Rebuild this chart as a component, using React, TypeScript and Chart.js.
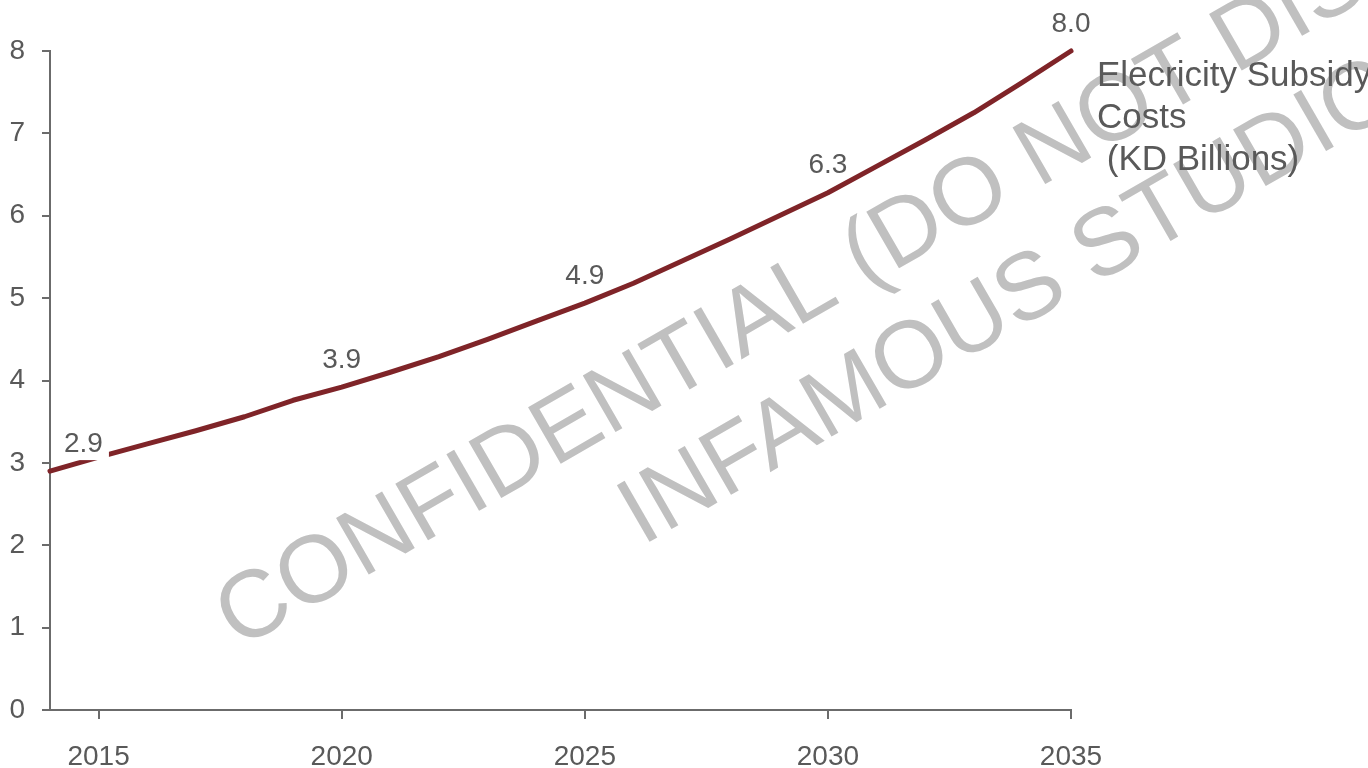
import React, { useEffect, useRef } from 'react';
import { Chart, registerables } from 'chart.js';

Chart.register(...registerables);

// ---- Data ----
const years = [2014, 2015, 2016, 2017, 2018, 2019, 2020, 2021, 2022, 2023, 2024, 2025, 2026, 2027, 2028, 2029, 2030, 2031, 2032, 2033, 2034, 2035];
const subsidyCost = [2.9, 3.07, 3.23, 3.39, 3.56, 3.76, 3.92, 4.1, 4.29, 4.5, 4.72, 4.94, 5.18, 5.45, 5.72, 6.0, 6.28, 6.6, 6.92, 7.25, 7.62, 8.0];
const labeledYears = [2014, 2020, 2025, 2030, 2035];
const labeledTexts = ['2.9', '3.9', '4.9', '6.3', '8.0'];
const xTickValues = [2015, 2020, 2025, 2030, 2035];
const xTickLabels = ['2015', '2020', '2025', '2030', '2035'];
const yTickValues = [0, 1, 2, 3, 4, 5, 6, 7, 8];
const seriesLabelLines = ['Elecricity Subsidy', 'Costs', ' (KD Billions)'];
const watermarkLines = ['CONFIDENTIAL (DO NOT DISTRIBUTE)', 'INFAMOUS STUDIOS'];

const FONT = "'Liberation Sans', Arial, Helvetica, sans-serif";
const TEXT_COLOR = '#595959';
const AXIS_COLOR = '#6b6b6b';
const LINE_COLOR = '#7f2428';
const WATERMARK_COLOR = '#c0c0c0';

const watermarkPlugin = {
  id: 'watermark',
  beforeDatasetsDraw(chart: any) {
    const ctx = chart.ctx;
    ctx.save();
    ctx.fillStyle = WATERMARK_COLOR;
    ctx.font = `95px ${FONT}`;
    ctx.textAlign = 'center';
    ctx.textBaseline = 'alphabetic';
    const angle = (-30 * Math.PI) / 180;
    const cx = 995;
    const cy = 213;
    ctx.translate(cx, cy);
    ctx.rotate(angle);
    watermarkLines.forEach((line, i) => {
      ctx.fillText(line, 0, i * 112);
    });
    ctx.restore();
  },
};

const labelsPlugin = {
  id: 'valueLabels',
  afterDatasetsDraw(chart: any) {
    const ctx = chart.ctx;
    const xs = chart.scales.x;
    const ys = chart.scales.y;
    ctx.save();
    ctx.font = `28px ${FONT}`;
    ctx.textBaseline = 'middle';
    labeledYears.forEach((yr, i) => {
      const idx = years.indexOf(yr);
      const px = xs.getPixelForValue(yr);
      const py = ys.getPixelForValue(subsidyCost[idx]);
      const text = labeledTexts[i];
      const w = ctx.measureText(text).width;
      const ty = py - 27;
      if (i === 0) {
        const tx = px + 14;
        ctx.fillStyle = '#ffffff';
        ctx.fillRect(tx - 6, ty - 16, w + 12, 32);
        ctx.fillStyle = TEXT_COLOR;
        ctx.textAlign = 'left';
        ctx.fillText(text, tx, ty);
      } else {
        ctx.fillStyle = TEXT_COLOR;
        ctx.textAlign = 'center';
        ctx.fillText(text, px, ty);
      }
    });
    // series label
    ctx.font = `35px ${FONT}`;
    ctx.textAlign = 'left';
    ctx.textBaseline = 'alphabetic';
    ctx.fillStyle = TEXT_COLOR;
    const lx = chart.chartArea.right + 26;
    const ly = ys.getPixelForValue(8) + 35;
    seriesLabelLines.forEach((line, i) => {
      ctx.fillText(line, lx, ly + i * 42);
    });
    ctx.restore();
  },
};

export default function App() {
  const canvasRef = useRef<HTMLCanvasElement | null>(null);

  useEffect(() => {
    const canvas = canvasRef.current;
    if (!canvas) return;
    const chart = new Chart(canvas, {
      type: 'line',
      data: {
        datasets: [
          {
            label: 'Elecricity Subsidy Costs (KD Billions)',
            data: years.map((yr, i) => ({ x: yr, y: subsidyCost[i] })),
            borderColor: LINE_COLOR,
            backgroundColor: LINE_COLOR,
            borderWidth: 5,
            pointRadius: 0,
            tension: 0,
            borderCapStyle: 'round',
            borderJoinStyle: 'round',
            clip: false as any,
          },
        ],
      },
      options: {
        responsive: false,
        animation: false,
        layout: { padding: { left: 0, top: 51, right: 297, bottom: 0 } },
        plugins: {
          legend: { display: false },
          tooltip: { enabled: false },
        },
        scales: {
          x: {
            type: 'linear',
            min: 2014,
            max: 2035,
            afterBuildTicks: (scale: any) => {
              scale.ticks = xTickValues.map((v) => ({ value: v }));
            },
            afterFit: (scale: any) => {
              scale.height = 58;
            },
            ticks: {
              color: TEXT_COLOR,
              font: { family: FONT, size: 28 },
              padding: 21,
              maxRotation: 0,
              autoSkip: false,
              callback: (v: any) => {
                const i = xTickValues.indexOf(Number(v));
                return i >= 0 ? xTickLabels[i] : '';
              },
            },
            grid: {
              display: true,
              drawOnChartArea: false,
              drawTicks: true,
              tickLength: 9,
              color: AXIS_COLOR,
              lineWidth: 2,
            },
            border: { display: true, color: AXIS_COLOR, width: 2 },
          },
          y: {
            type: 'linear',
            min: 0,
            max: 8,
            afterBuildTicks: (scale: any) => {
              scale.ticks = yTickValues.map((v) => ({ value: v }));
            },
            afterFit: (scale: any) => {
              scale.width = 50;
            },
            ticks: {
              color: TEXT_COLOR,
              font: { family: FONT, size: 28 },
              padding: 17,
              callback: (v: any) => String(v),
            },
            grid: {
              display: true,
              drawOnChartArea: false,
              drawTicks: true,
              tickLength: 8,
              color: AXIS_COLOR,
              lineWidth: 2,
            },
            border: { display: true, color: AXIS_COLOR, width: 2 },
          },
        },
      } as any,
      plugins: [watermarkPlugin, labelsPlugin],
    });
    return () => chart.destroy();
  }, []);

  return (
    <div style={{ position: 'fixed', left: 0, top: 0, width: 1368, height: 768, background: '#ffffff' }}>
      <canvas ref={canvasRef} width={1368} height={768} style={{ display: 'block', width: 1368, height: 768 }} />
    </div>
  );
}
